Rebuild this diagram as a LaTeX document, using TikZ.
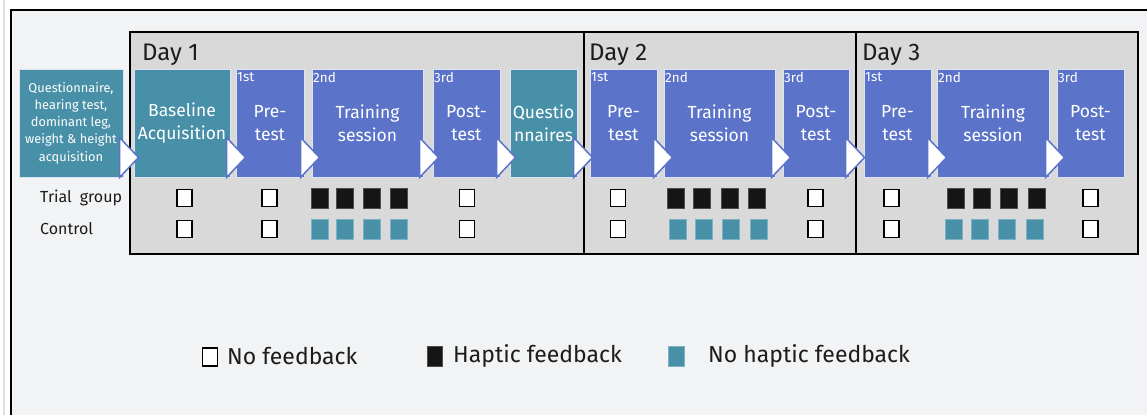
\documentclass[tikz,border=0pt]{standalone}
\usepackage{fontspec}
\setmainfont{Fira Sans}
\usetikzlibrary{calc}

\definecolor{pagebg}{HTML}{F2F3F5}
\definecolor{daygray}{HTML}{D9D9D9}
\definecolor{stageteal}{HTML}{4790A8}
\definecolor{stageblue}{HTML}{5B73C9}
\definecolor{boxedge}{HTML}{DDE3F5}
\definecolor{darkfill}{HTML}{151515}
\definecolor{inktext}{HTML}{1C1C1C}

\tikzset{
  dayframe/.style={rectangle, draw=black, line width=2pt, fill=daygray, inner sep=0pt},
  daylabel/.style={anchor=west, inner sep=0pt, text=inktext, font=\fontsize{24}{26}\selectfont},
  stagebox/.style={rectangle, draw=boxedge, line width=1pt, text=white, align=center,
    minimum height=108pt, inner sep=0pt, font=\fontsize{17.5}{23}\selectfont},
  tealbox/.style={stagebox, fill=stageteal},
  bluebox/.style={stagebox, fill=stageblue},
  ordinal/.style={anchor=north west, inner sep=0pt, text=white, font=\fontsize{13.5}{14}\selectfont},
  stagearrow/.style={fill=white, draw=stageblue, line width=1.5pt, line join=miter},
  nofb/.style={rectangle, draw=black, line width=1.6pt, fill=white, minimum width=15pt, minimum height=17pt, inner sep=0pt},
  hapfb/.style={rectangle, draw=black!70, line width=0.4pt, fill=darkfill, minimum width=17pt, minimum height=20pt, inner sep=0pt},
  nohapfb/.style={rectangle, draw=stageteal!70, line width=0.4pt, fill=stageteal, minimum width=17pt, minimum height=20pt, inner sep=0pt},
  rowlabel/.style={anchor=west, inner sep=0pt, text=inktext, font=\fontsize{16}{18}\selectfont},
  legendtext/.style={anchor=west, inner sep=0pt, text=inktext, font=\fontsize{23}{26}\selectfont},
}

\begin{document}
\begin{tikzpicture}[x=1pt, y=-1pt]
  % canvas and outer frame
  \useasboundingbox (0,0) rectangle (1147,415);
  \fill[white] (0,0) rectangle (1147,415);
  \fill[pagebg] (11,10) rectangle (1147,415);
  \draw[black!12, line width=1.5pt] (4,0) -- (4,415);
  \draw[black, line width=2pt] (11,415) -- (11,10) -- (1147,10);

  % day frames
  \node[dayframe, minimum width=454pt, minimum height=222pt] (day1) at (357,143) {};
  \node[dayframe, minimum width=272pt, minimum height=222pt] (day2) at (720,143) {};
  \node[dayframe, minimum width=282pt, minimum height=222pt] (day3) at (997,143) {};
  \node[daylabel] (d1lab) at (142,55) {Day 1};
  \node[daylabel] (d2lab) at (589,55) {Day 2};
  \node[daylabel] (d3lab) at (862,55) {Day 3};

  % stages
  \node[tealbox, minimum width=104pt, font=\fontsize{12.8}{17.3}\selectfont] (q0) at (71,123)
    {Questionnaire,\\hearing test,\\dominant leg,\\weight \& height\\acquisition};
  \node[tealbox, minimum width=96pt] (base) at (182,123) {Baseline\\Acquisition};
  \node[bluebox, minimum width=68pt] (pre1) at (270,123) {Pre-\\test};
  \node[bluebox, minimum width=111pt] (tr1) at (367.5,123) {Training\\session};
  \node[bluebox, minimum width=67pt] (post1) at (466.5,123) {Post-\\test};
  \node[tealbox, minimum width=67pt] (quest) at (543.5,123) {Questio\\nnaires};
  \node[bluebox, minimum width=67pt] (pre2) at (623.5,123) {Pre-\\test};
  \node[bluebox, minimum width=111pt] (tr2) at (719.5,123) {Training\\session};
  \node[bluebox, minimum width=66pt] (post2) at (816,123) {Post-\\test};
  \node[bluebox, minimum width=67pt] (pre3) at (897.5,123) {Pre-\\test};
  \node[bluebox, minimum width=112pt] (tr3) at (993,123) {Training\\session};
  \node[bluebox, minimum width=67pt] (post3) at (1090.5,123) {Post-\\test};

  % order within each day
  \foreach \b/\t in {pre1/1st, tr1/2nd, post1/3rd, pre2/1st, tr2/2nd, post2/3rd, pre3/1st, tr3/2nd, post3/3rd}
    \node[ordinal] (ord-\b) at ($(\b.north west)+(1.5,4)$) {\t};

  % flow arrows between stages
  \foreach \b in {q0, base, pre1, tr1, post1, quest, pre2, tr2, post2, pre3, tr3}
    \draw[stagearrow] ($(\b.south east)+(-4,0)$) -- ++(0,-40) -- ++(19,20) -- cycle;

  % group rows
  \node[rowlabel] (trial) at (40,198) {Trial\hspace{0.5em}group};
  \node[rowlabel] (ctrl) at (40,229) {Control};

  % no-feedback sessions (both groups)
  \foreach \x [count=\i] in {184.5, 269.5, 467, 618, 815.5, 891.5, 1090.5} {
    \node[nofb] (tn\i) at (\x,198) {};
    \node[nofb] (cn\i) at (\x,229) {};
  }
  % training sessions: haptic feedback for the trial group
  \foreach \x [count=\i] in {319.5, 345, 371.5, 398.5, 676, 702, 729.5, 757, 955.5, 981.5, 1009, 1036.5}
    \node[hapfb] (th\i) at (\x,198) {};
  % training sessions without haptic feedback for the control group
  \foreach \x [count=\i] in {319.5, 345, 371.5, 398.5, 677.5, 703.5, 730.5, 758.5, 953.5, 979.5, 1007, 1034.5}
    \node[nohapfb] (ch\i) at (\x,229) {};

  % legend
  \node[nofb, minimum width=15pt, minimum height=18pt] (lg1) at (210,357) {};
  \node[legendtext] (lt1) at (227,356) {No feedback};
  \node[hapfb, minimum width=15pt, minimum height=20pt] (lg2) at (434.5,356) {};
  \node[legendtext] (lt2) at (453,356) {Haptic feedback};
  \node[nohapfb, minimum width=16pt, minimum height=20pt] (lg3) at (676,356) {};
  \node[legendtext] (lt3) at (708,356) {No haptic feedback};
\end{tikzpicture}
\end{document}
